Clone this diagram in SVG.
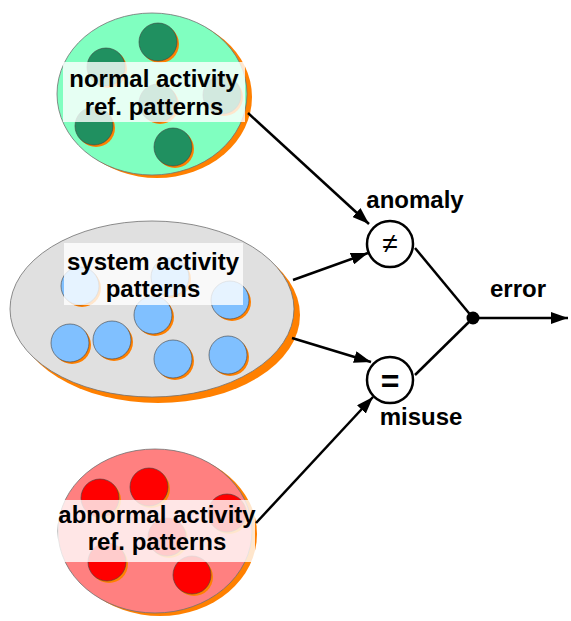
<svg xmlns="http://www.w3.org/2000/svg" width="571" height="621" viewBox="0 0 571 621">
<defs>
<style>
.shadow{fill:#FF8000;}
.outl{stroke:#707070;stroke-width:0.8;}
.g{fill:#209060;}
.b{fill:#80C0FF;}
.r{fill:#FF0000;}
.dot{stroke:#404040;stroke-width:0.6;}
.box{fill:#FFFFFF;opacity:0.8;}
.t{font-family:"Liberation Sans",Arial,sans-serif;font-weight:bold;font-size:24px;fill:#000;text-anchor:middle;}
.edge{stroke:#000;stroke-width:2.5;fill:none;}
.op{fill:#FFFFFF;stroke:#000;stroke-width:2.5;}
</style>
<marker id="ah" markerUnits="userSpaceOnUse" markerWidth="18" markerHeight="12" refX="17" refY="6" orient="auto">
<path d="M0,0 L17,6 L0,12 Z" fill="#000"/>
</marker>
<g id="gc"><circle cx="2" cy="2" r="19" class="shadow"/><circle cx="0" cy="0" r="19" class="g dot"/></g>
<g id="bc"><circle cx="2" cy="2" r="19" class="shadow"/><circle cx="0" cy="0" r="19" class="b dot"/></g>
<g id="rc"><circle cx="2" cy="2" r="19" class="shadow"/><circle cx="0" cy="0" r="19" class="r dot"/></g>
</defs>
<rect width="571" height="621" fill="#FFFFFF"/>

<g id="normal">
<ellipse cx="157" cy="97" rx="95" ry="81" class="shadow"/>
<ellipse cx="152" cy="94" rx="95" ry="81" fill="#80FFC0" class="outl"/>
<use href="#gc" x="158" y="42"/>
<use href="#gc" x="106" y="67"/>
<use href="#gc" x="158" y="103"/>
<use href="#gc" x="222" y="95"/>
<use href="#gc" x="94" y="126"/>
<use href="#gc" x="173" y="147"/>
<rect x="63" y="62" width="182" height="60" class="box"/>
<text class="t" x="154" y="87">normal activity</text>
<text class="t" x="154" y="115">ref. patterns</text>
</g>

<g id="system">
<ellipse cx="158" cy="315" rx="142" ry="88" class="shadow"/>
<ellipse cx="152" cy="309" rx="142" ry="88" fill="#E0E0E0" class="outl"/>
<use href="#bc" x="80" y="286"/>
<use href="#bc" x="170" y="277"/>
<use href="#bc" x="230" y="300"/>
<use href="#bc" x="153" y="315"/>
<use href="#bc" x="70" y="343"/>
<use href="#bc" x="112" y="340"/>
<use href="#bc" x="173" y="359"/>
<use href="#bc" x="228" y="355"/>
<rect x="64" y="243" width="179" height="62" class="box"/>
<text class="t" x="153" y="270">system activity</text>
<text class="t" x="153" y="297">patterns</text>
</g>

<g id="abnormal">
<ellipse cx="160" cy="534" rx="97" ry="82" class="shadow"/>
<ellipse cx="155" cy="531" rx="97" ry="82" fill="#FF8080" class="outl"/>
<use href="#rc" x="100" y="498"/>
<use href="#rc" x="149" y="487"/>
<use href="#rc" x="227" y="513"/>
<use href="#rc" x="167" y="537"/>
<use href="#rc" x="107" y="562"/>
<use href="#rc" x="192" y="575"/>
<rect x="58" y="500" width="197" height="62" class="box"/>
<text class="t" x="157" y="523">abnormal activity</text>
<text class="t" x="157" y="550">ref. patterns</text>
</g>

<g id="connectors">
<line x1="248" y1="113" x2="369" y2="224" class="edge" marker-end="url(#ah)"/>
<line x1="293" y1="280" x2="368" y2="253" class="edge" marker-end="url(#ah)"/>
<line x1="292" y1="338" x2="371" y2="362" class="edge" marker-end="url(#ah)"/>
<line x1="256" y1="523" x2="373" y2="397" class="edge" marker-end="url(#ah)"/>
<line x1="415" y1="248" x2="473" y2="318" class="edge"/>
<line x1="415" y1="375" x2="473" y2="318" class="edge"/>
<line x1="473" y1="318" x2="568" y2="318" class="edge" marker-end="url(#ah)"/>
</g>

<g id="anomaly">
<circle cx="390" cy="244" r="23" class="op"/>
<text x="390" y="253" font-family="Liberation Sans,Arial,sans-serif" font-size="28" text-anchor="middle">≠</text>
<text class="t" x="415" y="208">anomaly</text>
</g>

<g id="misuse">
<circle cx="390" cy="380" r="23" class="op"/>
<text class="t" x="390" y="392" style="font-size:32px">=</text>
<text class="t" x="421" y="425">misuse</text>
</g>

<g id="error">
<circle cx="473" cy="318" r="6.5" fill="#000"/>
<text class="t" x="518" y="297">error</text>
</g>
</svg>
